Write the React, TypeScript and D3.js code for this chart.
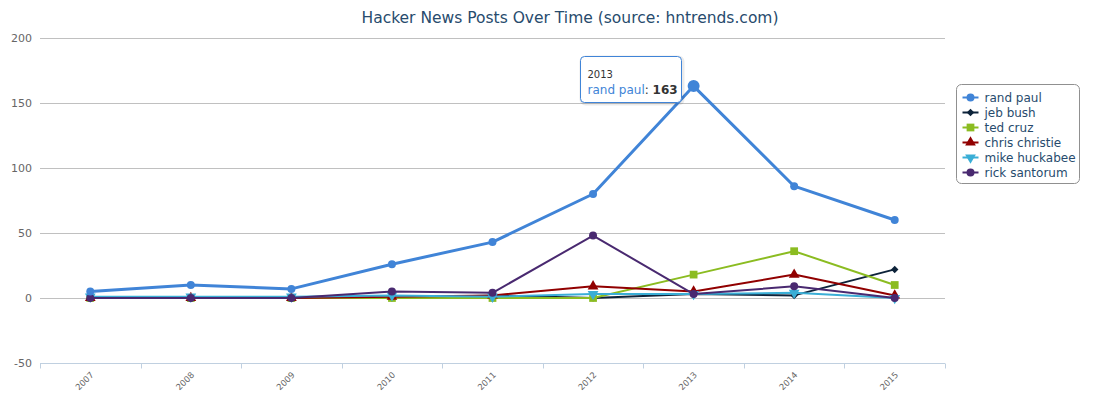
import React, { useEffect, useRef } from "react";
import * as d3 from "d3";

const years = ["2007", "2008", "2009", "2010", "2011", "2012", "2013", "2014", "2015"];
const yTicks = [-50, 0, 50, 100, 150, 200];

const randPaul = [5, 10, 7, 26, 43, 80, 163, 86, 60];
const jebBush = [0, 0, 0, 0, 2, 0, 3, 2, 22];
const tedCruz = [0, 0, 0, 0, 0, 0, 18, 36, 10];
const chrisChristie = [0, 0, 0, 1, 2, 9, 5, 18, 2];
const mikeHuckabee = [1, 1, 1, 2, 1, 3, 3, 4, 0];
const rickSantorum = [0, 0, 0, 5, 4, 48, 3, 9, 0];

const seriesNames = ["rand paul", "jeb bush", "ted cruz", "chris christie", "mike huckabee", "rick santorum"];
const seriesColors = ["#4084d7", "#0d233a", "#8bbc21", "#910000", "#3aaed6", "#492970"];
const seriesSymbols = ["circle", "diamond", "square", "triangle", "triangleDown", "circle"];

export default function App() {
  const ref = useRef<SVGSVGElement>(null);

  useEffect(() => {
    const svg = d3.select(ref.current);
    svg.selectAll("*").remove();
    const W = 1108, H = 397;
    const left = 40, right = 945, top = 38, bottom = 363;
    const font = "'Lucida Grande', 'DejaVu Sans', Verdana, sans-serif";

    const x = d3.scaleBand().domain(years).range([left, right]);
    const y = d3.scaleLinear().domain([-50, 200]).range([bottom, top]);
    const cx = (yr: string) => (x(yr) as number) + x.bandwidth() / 2;

    svg.append("rect").attr("width", W).attr("height", H).attr("fill", "#fff");

    // Title
    svg.append("text")
      .attr("x", 570).attr("y", 23)
      .attr("text-anchor", "middle")
      .style("font-family", font).style("font-size", "15.5px")
      .attr("fill", "#274b6d")
      .text("Hacker News Posts Over Time (source: hntrends.com)");

    // gridlines
    svg.append("g").selectAll("line")
      .data(yTicks.filter(t => t > -50))
      .enter().append("line")
      .attr("x1", left).attr("x2", right)
      .attr("y1", d => Math.round(y(d)) + 0.5).attr("y2", d => Math.round(y(d)) + 0.5)
      .attr("stroke", "#c0c0c0");

    // y labels
    svg.append("g").selectAll("text")
      .data(yTicks).enter().append("text")
      .attr("x", 32).attr("y", d => y(d) + 4)
      .attr("text-anchor", "end")
      .style("font-family", font).style("font-size", "11px")
      .attr("fill", "#666")
      .text(d => String(d));

    // x axis
    const xAxis = svg.append("g").attr("transform", `translate(0,${Math.round(bottom) + 0.5})`);
    xAxis.append("line").attr("x1", left).attr("x2", right).attr("stroke", "#c0d0e0");
    const ticks = years.map(yr => x(yr) as number).concat([right]);
    xAxis.selectAll("line.tick").data(ticks).enter().append("line")
      .attr("class", "tick")
      .attr("x1", d => Math.round(d) + 0.5).attr("x2", d => Math.round(d) + 0.5)
      .attr("y1", 0).attr("y2", 5)
      .attr("stroke", "#c0d0e0");
    xAxis.selectAll("text").data(years).enter().append("text")
      .attr("transform", d => `translate(${cx(d) + 4},${12}) rotate(-45)`)
      .attr("text-anchor", "end")
      .style("font-family", font).style("font-size", "8.5px")
      .attr("fill", "#666")
      .text(d => d);

    const allSeries = [randPaul, jebBush, tedCruz, chrisChristie, mikeHuckabee, rickSantorum];
    const symbolFor = (s: string) => {
      const map: Record<string, d3.SymbolType> = {
        circle: d3.symbolCircle,
        diamond: d3.symbolSquare,
        square: d3.symbolSquare,
        triangle: d3.symbolTriangle,
        triangleDown: d3.symbolTriangle,
      };
      const size = s === "diamond" ? 28 : s === "square" ? 60 : 50;
      return d3.symbol().type(map[s]).size(size)() as string;
    };
    const rot = (s: string) => (s === "triangleDown" ? " rotate(180)" : s === "diamond" ? " rotate(45)" : "");
    const line = d3.line<number>().x((_, i) => cx(years[i])).y(d => y(d));

    // series in order, hovered rand paul drawn last on top
    const order = [1, 2, 3, 4, 5, 0];
    order.forEach(k => {
      const vals = allSeries[k];
      const g = svg.append("g");
      g.append("path")
        .attr("d", line(vals) as string)
        .attr("fill", "none")
        .attr("stroke", seriesColors[k])
        .attr("stroke-width", k === 0 ? 3 : 2)
        .attr("stroke-linejoin", "round");
      g.selectAll("path.m").data(vals).enter().append("path")
        .attr("class", "m")
        .attr("d", symbolFor(seriesSymbols[k]))
        .attr("transform", (d, i) => `translate(${cx(years[i])},${y(d)})${rot(seriesSymbols[k])}`)
        .attr("fill", seriesColors[k]);
    });

    // hover marker
    svg.append("circle")
      .attr("cx", cx("2013")).attr("cy", y(randPaul[6]))
      .attr("r", 6).attr("fill", seriesColors[0]);

    // tooltip
    const tip = svg.append("g").attr("transform", "translate(580.5,56.5)");
    tip.append("rect")
      .attr("x", 1).attr("y", 1).attr("width", 101).attr("height", 46).attr("rx", 4)
      .attr("fill", "none").attr("stroke", "#000").attr("stroke-opacity", 0.08).attr("stroke-width", 4);
    tip.append("rect")
      .attr("width", 101).attr("height", 46).attr("rx", 4)
      .attr("fill", "#fff").attr("fill-opacity", 0.95)
      .attr("stroke", seriesColors[0]).attr("stroke-width", 1);
    tip.append("text").attr("x", 7).attr("y", 21)
      .style("font-family", font).style("font-size", "10px").attr("fill", "#333")
      .text(years[6]);
    const t2 = tip.append("text").attr("x", 7).attr("y", 37)
      .style("font-family", font).style("font-size", "12px");
    t2.append("tspan").attr("fill", seriesColors[0]).text(seriesNames[0]);
    t2.append("tspan").attr("fill", "#333").text(": ");
    t2.append("tspan").attr("fill", "#333").attr("font-weight", "bold").text(String(randPaul[6]));

    // legend
    const lg = svg.append("g").attr("transform", "translate(956.5,84.5)");
    lg.append("rect").attr("width", 123).attr("height", 99).attr("rx", 5)
      .attr("fill", "#fff").attr("stroke", "#909090");
    seriesNames.forEach((name, i) => {
      const yy = 13 + i * 15;
      lg.append("line").attr("x1", 6).attr("x2", 22).attr("y1", yy).attr("y2", yy)
        .attr("stroke", seriesColors[i]).attr("stroke-width", 2);
      lg.append("path")
        .attr("d", symbolFor(seriesSymbols[i]))
        .attr("transform", `translate(14,${yy})${rot(seriesSymbols[i])}`)
        .attr("fill", seriesColors[i]);
      lg.append("text").attr("x", 28).attr("y", yy + 4)
        .style("font-family", font).style("font-size", "12px")
        .attr("fill", "#274b6d")
        .text(name);
    });
  }, []);

  return (
    <svg ref={ref} width={1108} height={397}
      style={{ position: "absolute", left: 0, top: 0, display: "block" }} />
  );
}
